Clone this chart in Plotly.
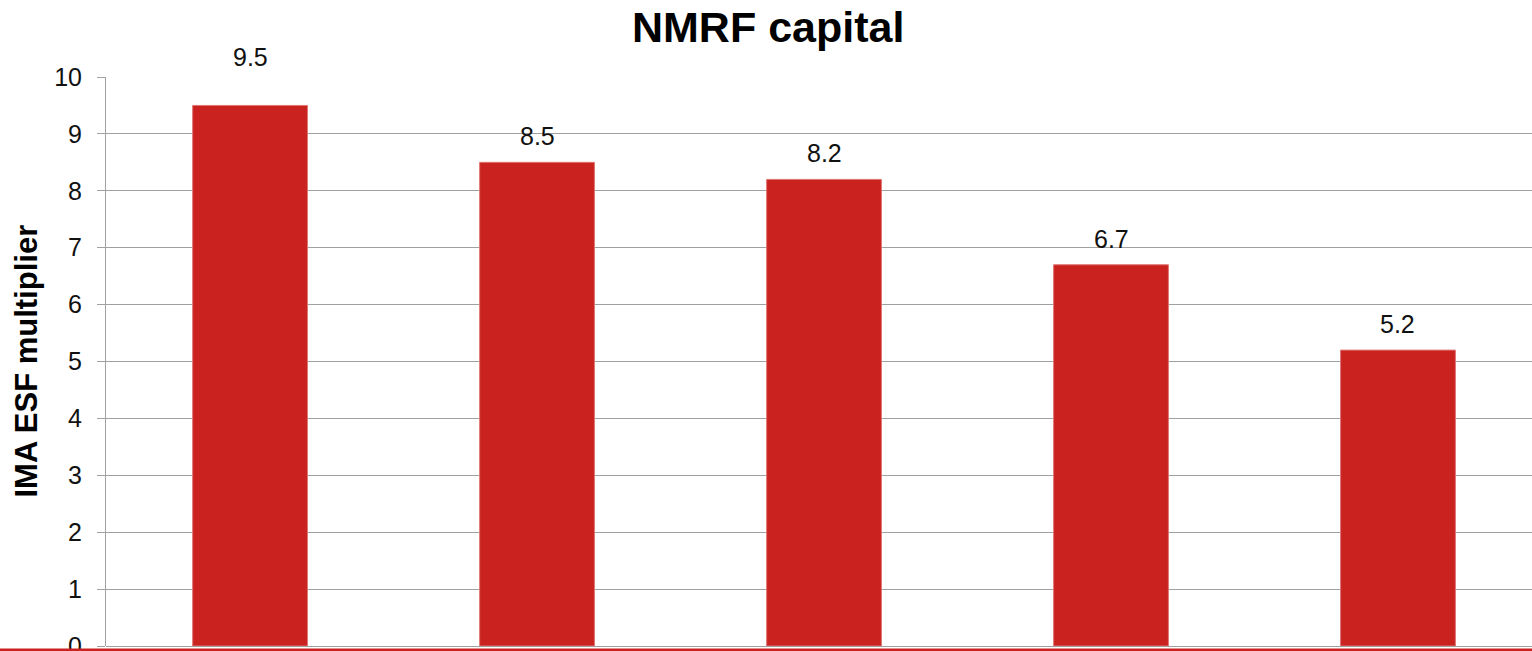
import plotly.graph_objects as go

# Chart data
categories = ["A", "B", "C", "D", "E"]
multipliers = [9.5, 8.5, 8.2, 6.7, 5.2]
y_ticks = [0, 1, 2, 3, 4, 5, 6, 7, 8, 9, 10]

BAR_RED = "#C9221F"
GRID = "#A0A0A0"
FONT = "Liberation Sans, Arial, sans-serif"

fig = go.Figure()
fig.add_trace(go.Bar(
    x=categories,
    y=multipliers,
    width=0.4,
    marker=dict(color=BAR_RED, line=dict(color="#E07470", width=1)),
    hoverinfo="x+y",
))

# value labels above each bar (the first one sits a bit higher)
label_lift = [48, 26, 26, 26, 26]
for cat, val, lift in zip(categories, multipliers, label_lift):
    fig.add_annotation(
        x=cat, y=val, xref="x", yref="y",
        text=f"{val:.1f}", showarrow=False,
        yanchor="middle", yshift=lift,
        font=dict(family=FONT, size=25, color="#111111"),
    )

# chart title
fig.add_annotation(
    x=0.4643, y=1.0887, xref="paper", yref="paper",
    text="<b>NMRF capital</b>", showarrow=False,
    xanchor="center", yanchor="middle",
    font=dict(family=FONT, size=43, color="#000000"),
)

# y axis title
fig.add_annotation(
    x=-0.0561, y=0.5, xref="paper", yref="paper",
    text="<b>IMA ESF multiplier</b>", showarrow=False,
    textangle=-90, xanchor="center", yanchor="middle",
    font=dict(family=FONT, size=31, color="#000000"),
)

# red rule along the bottom edge
fig.add_shape(
    type="line", xref="paper", yref="paper",
    x0=-0.2, x1=1.2, y0=-0.007, y1=-0.007,
    line=dict(color=BAR_RED, width=3),
    layer="above",
)

fig.update_layout(
    width=1532, height=651,
    margin=dict(l=106, r=0, t=77, b=5, autoexpand=False),
    paper_bgcolor="white", plot_bgcolor="white",
    showlegend=False,
    bargap=0.6,
)
fig.update_xaxes(
    type="category",
    range=[-0.502, 4.467],
    showticklabels=False,
    showgrid=False,
    zeroline=False,
    showline=False,
    ticks="",
    automargin=False,
)
fig.update_yaxes(
    range=[0, 10],
    tickvals=y_ticks,
    ticktext=[str(t) for t in y_ticks],
    tickfont=dict(family=FONT, size=25, color="#111111"),
    ticks="outside", ticklen=8, tickcolor=GRID, tickwidth=1,
    ticklabelstandoff=10,
    ticklabeloverflow="allow",
    automargin=False,
    showgrid=True, gridcolor=GRID, gridwidth=1,
    zeroline=True, zerolinecolor=GRID, zerolinewidth=1,
    showline=True, linecolor=GRID, linewidth=1,
)

fig.write_html("out.html")
